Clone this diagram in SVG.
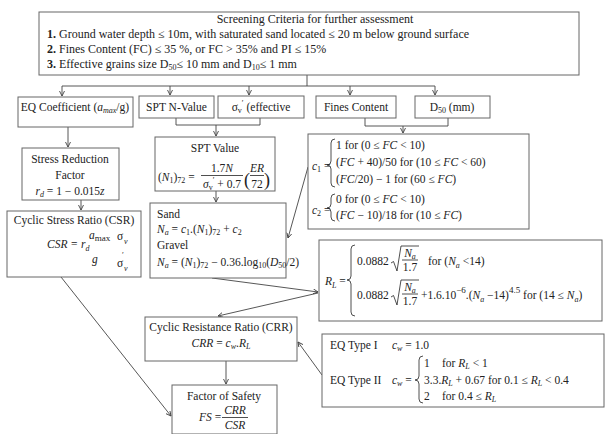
<svg xmlns="http://www.w3.org/2000/svg" width="605" height="434" viewBox="0 0 605 434">
<defs>
<marker id="ah" markerWidth="8" markerHeight="8" refX="5" refY="2.5" orient="auto" markerUnits="userSpaceOnUse">
<path d="M0,0 L5,2.5 L0,5" fill="none" stroke="#444" stroke-width="0.9"/>
</marker>
<style>
text{font-family:"Liberation Serif","Times New Roman",serif;font-size:11.5px;fill:#222}
.box{fill:#fff;stroke:#666;stroke-width:1}
.m{font-style:italic}
.s{font-size:8px}
.p{font-size:18px}
.t{font-size:12px}
.ln{fill:none;stroke:#444;stroke-width:0.9}
.ar{fill:none;stroke:#444;stroke-width:0.9;marker-end:url(#ah)}
.br{fill:none;stroke:#222;stroke-width:0.8}
.bar{stroke:#222;stroke-width:0.8}
</style>
</defs>
<rect width="605" height="434" fill="#fff"/>

<g id="connectors">
<line class="ln" x1="307" y1="75" x2="307" y2="86"/>
<line class="ln" x1="62" y1="86" x2="435" y2="86"/>
<line class="ar" x1="62" y1="86" x2="62" y2="96"/>
<line class="ar" x1="170" y1="86" x2="170" y2="95"/>
<line class="ar" x1="249" y1="86" x2="249" y2="95"/>
<line class="ar" x1="350" y1="86" x2="350" y2="95"/>
<line class="ar" x1="435" y1="86" x2="435" y2="95"/>
<line class="ar" x1="68" y1="127" x2="68" y2="147"/>
<line class="ar" x1="81" y1="200" x2="81" y2="210"/>
<path class="ln" d="M176,118 V125 H260 V118"/>
<line class="ar" x1="216" y1="125" x2="216" y2="136"/>
<line class="ar" x1="216" y1="191" x2="216" y2="202"/>
<path class="ln" d="M365,118 V126 H448 V118"/>
<line class="ar" x1="403" y1="126" x2="403" y2="133"/>
<line class="ar" x1="308" y1="167" x2="288" y2="238"/>
<line class="ar" x1="212" y1="278" x2="318" y2="292"/>
<line class="ar" x1="318" y1="293" x2="218" y2="316"/>
<line class="ar" x1="61" y1="277" x2="171" y2="416"/>
<line class="ar" x1="322" y1="375" x2="298" y2="342"/>
<line class="ar" x1="226" y1="361" x2="226" y2="384"/>
</g>

<g id="screening">
<rect class="box" x="39" y="12" width="540" height="63"/>
<text x="315" y="23" text-anchor="middle" class="t">Screening Criteria for further assessment</text>
<text x="47" y="38" class="t"><tspan font-weight="bold">1.</tspan> Ground water depth  ≤ 10m, with saturated sand located ≤ 20 m below ground surface</text>
<text x="47" y="53" class="t"><tspan font-weight="bold">2.</tspan> Fines Content (FC) ≤ 35 %, or FC &gt; 35% and PI ≤ 15%</text>
<text x="47" y="68" class="t"><tspan font-weight="bold">3.</tspan> Effective grains size D<tspan class="s" dy="2">50</tspan><tspan dy="-2">≤ 10 mm and D</tspan><tspan class="s" dy="2">10</tspan><tspan dy="-2">≤ 1 mm</tspan></text>
</g>

<g id="eq-coefficient">
<rect class="box" x="18" y="97" width="115" height="30"/>
<text x="75" y="111" text-anchor="middle">EQ Coefficient (<tspan class="m">a</tspan><tspan class="s m" dy="2">max</tspan><tspan dy="-2">/g)</tspan></text>
</g>

<g id="spt-n-value">
<rect class="box" x="139" y="96" width="75" height="22"/>
<text x="176.5" y="111" text-anchor="middle">SPT N-Value</text>
</g>

<g id="sigma-effective">
<rect class="box" x="218" y="96" width="86" height="22"/>
<text x="261" y="111" text-anchor="middle">σ<tspan class="s" dy="2">v</tspan><tspan class="s" dy="-7">′</tspan><tspan dy="5"> (effective</tspan></text>
</g>

<g id="fines-content">
<rect class="box" x="316" y="96" width="80" height="22"/>
<text x="356" y="111" text-anchor="middle">Fines Content</text>
</g>

<g id="d50">
<rect class="box" x="415" y="96" width="75" height="22"/>
<text x="452" y="111" text-anchor="middle">D<tspan class="s" dy="2">50</tspan><tspan dy="-2"> (mm)</tspan></text>
</g>

<g id="stress-reduction">
<rect class="box" x="22" y="148" width="97" height="52"/>
<text x="70" y="163" text-anchor="middle">Stress Reduction</text>
<text x="70" y="179" text-anchor="middle">Factor</text>
<text x="70" y="195" text-anchor="middle"><tspan class="m">r</tspan><tspan class="s m" dy="2">d</tspan><tspan dy="-2"> = 1 − 0.015</tspan><tspan class="m">z</tspan></text>
</g>

<g id="csr">
<rect class="box" x="7" y="211" width="134" height="66"/>
<text x="74" y="224" text-anchor="middle">Cyclic Stress Ratio (CSR)</text>
<text x="47" y="248" class="m">CSR = r<tspan class="s" dy="3">d</tspan></text>
<text x="89" y="239" class="m">a<tspan font-size="9" font-style="normal" dy="2">max</tspan></text>
<text x="92" y="263" class="m">g</text>
<text x="117" y="240">σ</text>
<text x="124" y="244" class="s m">v</text>
<text x="122" y="258" class="s">′</text>
<text x="117" y="267">σ</text>
<text x="124" y="271" class="s m">v</text>
</g>

<g id="spt-value">
<rect class="box" x="155" y="137" width="120" height="54"/>
<text x="215" y="152" text-anchor="middle">SPT Value</text>
<text x="158" y="181">(<tspan class="m">N</tspan><tspan class="s" dy="2">1</tspan><tspan dy="-2">)</tspan><tspan class="s" dy="2">72</tspan><tspan dy="-2"> =</tspan></text>
<text x="222" y="172" text-anchor="middle">1.7<tspan class="m">N</tspan></text>
<line class="bar" x1="201" y1="175.5" x2="243" y2="175.5"/>
<text x="222" y="188" text-anchor="middle" font-size="11"><tspan class="m">σ</tspan><tspan class="s" dy="2">v</tspan><tspan class="s" dy="-7">′</tspan><tspan dy="5"> + 0.7</tspan></text>
<text x="244" y="186" class="p">(</text>
<text x="257" y="172" text-anchor="middle" class="m">ER</text>
<line class="bar" x1="250" y1="175.5" x2="264" y2="175.5"/>
<text x="257" y="188" text-anchor="middle">72</text>
<text x="264" y="186" class="p">)</text>
</g>

<g id="sand-gravel">
<rect class="box" x="150" y="203" width="136" height="75"/>
<text x="157" y="218">Sand</text>
<text x="157" y="233"><tspan class="m">N</tspan><tspan class="s m" dy="2">a</tspan><tspan dy="-2"> = </tspan><tspan class="m">c</tspan><tspan class="s" dy="2">1</tspan><tspan dy="-2">.(</tspan><tspan class="m">N</tspan><tspan class="s" dy="2">1</tspan><tspan dy="-2">)</tspan><tspan class="s" dy="2">72</tspan><tspan dy="-2"> + </tspan><tspan class="m">c</tspan><tspan class="s" dy="2">2</tspan></text>
<text x="157" y="249">Gravel</text>
<text x="157" y="266" font-size="11"><tspan class="m">N</tspan><tspan class="s m" dy="2">a</tspan><tspan dy="-2"> = (</tspan><tspan class="m">N</tspan><tspan class="s" dy="2">1</tspan><tspan dy="-2">)</tspan><tspan class="s" dy="2">72</tspan><tspan dy="-2"> − 0.36.log</tspan><tspan class="s" dy="2">10</tspan><tspan dy="-2">(</tspan><tspan class="m">D</tspan><tspan class="s" dy="2">50</tspan><tspan dy="-2">/2)</tspan></text>
</g>

<g id="fines-coefficients">
<rect class="box" x="308" y="134" width="221" height="95"/>
<text x="312" y="170"><tspan class="m">c</tspan><tspan class="s" dy="2">1</tspan><tspan dy="-2"> =</tspan></text>
<path class="br" d="M335,139 q-4,0 -4,4 V161 q0,4 -4,4 q4,0 4,4 V183 q0,4 4,4"/>
<text x="336" y="149">1 for (0 ≤ <tspan class="m">FC</tspan> &lt; 10)</text>
<text x="336" y="166">(<tspan class="m">FC</tspan> + 40)/50 for (10 ≤ <tspan class="m">FC</tspan> &lt; 60)</text>
<text x="336" y="183">(<tspan class="m">FC</tspan>/20) − 1 for (60 ≤ <tspan class="m">FC</tspan>)</text>
<text x="312" y="214"><tspan class="m">c</tspan><tspan class="s" dy="2">2</tspan><tspan dy="-2"> =</tspan></text>
<path class="br" d="M335,194 q-4,0 -4,4 V204 q0,4 -4,4 q4,0 4,4 V217 q0,4 4,4"/>
<text x="336" y="203">0 for (0 ≤ <tspan class="m">FC</tspan> &lt; 10)</text>
<text x="336" y="219">(<tspan class="m">FC</tspan> − 10)/18 for (10 ≤ <tspan class="m">FC</tspan>)</text>
</g>

<g id="liquefaction-resistance">
<rect class="box" x="319" y="240" width="283" height="81"/>
<text x="325" y="285" font-size="12.5"><tspan class="m">R</tspan><tspan class="s m" dy="3">L</tspan><tspan dy="-3"> =</tspan></text>
<path class="br" d="M355,245 q-4,0 -4,4 V276 q0,4 -4,4 q4,0 4,4 V312 q0,4 4,4"/>
<text x="357" y="265" font-size="12">0.0882</text>
<path class="br" d="M391,263 l2.5,-1.5 l3.5,9.5 l4,-25 h18"/>
<text x="410" y="257" text-anchor="middle" font-size="12"><tspan class="m">N</tspan><tspan class="s m" dy="2">a</tspan></text>
<line class="bar" x1="402" y1="260" x2="418" y2="260"/>
<text x="410" y="271" text-anchor="middle" font-size="12">1.7</text>
<text x="428" y="265" font-size="12">for (<tspan class="m">N</tspan><tspan class="s m" dy="3">a</tspan><tspan dy="-3"> &lt;14)</tspan></text>
<text x="357" y="299" font-size="12">0.0882</text>
<path class="br" d="M391,297 l2.5,-1.5 l3.5,9.5 l4,-25 h18"/>
<text x="410" y="291" text-anchor="middle" font-size="12"><tspan class="m">N</tspan><tspan class="s m" dy="2">a</tspan></text>
<line class="bar" x1="402" y1="294" x2="418" y2="294"/>
<text x="410" y="305" text-anchor="middle" font-size="12">1.7</text>
<text x="421" y="299" font-size="12">+1.6.10<tspan font-size="9" dy="-6">−6</tspan><tspan dy="6">.(</tspan><tspan class="m">N</tspan><tspan class="s m" dy="3">a</tspan><tspan dy="-3"> −14)</tspan><tspan font-size="9" dy="-6">4.5</tspan><tspan dy="6"> for (14 ≤ </tspan><tspan class="m">N</tspan><tspan class="s m" dy="3">a</tspan><tspan dy="-3">)</tspan></text>
</g>

<g id="eq-type">
<rect class="box" x="322" y="334" width="282" height="73"/>
<text x="330" y="349">EQ Type I</text>
<text x="392" y="349"><tspan class="m">c</tspan><tspan class="s m" dy="2">w</tspan><tspan dy="-2"> = 1.0</tspan></text>
<text x="330" y="384">EQ Type II</text>
<text x="392" y="384"><tspan class="m">c</tspan><tspan class="s m" dy="2">w</tspan><tspan dy="-2"> =</tspan></text>
<path class="br" d="M423,356 q-4,0 -4,4 V376 q0,4 -4,4 q4,0 4,4 V399 q0,4 4,4"/>
<text x="424" y="367">1</text>
<text x="442" y="367">for <tspan class="m">R</tspan><tspan class="s m" dy="2">L</tspan><tspan dy="-2"> &lt; 1</tspan></text>
<text x="424" y="384">3.3.<tspan class="m">R</tspan><tspan class="s m" dy="2">L</tspan><tspan dy="-2"> + 0.67 for 0.1 ≤ </tspan><tspan class="m">R</tspan><tspan class="s m" dy="2">L</tspan><tspan dy="-2"> &lt; 0.4</tspan></text>
<text x="424" y="400">2</text>
<text x="442" y="400">for  0.4 ≤ <tspan class="m">R</tspan><tspan class="s m" dy="2">L</tspan></text>
</g>

<g id="crr">
<rect class="box" x="145" y="317" width="152" height="44"/>
<text x="221" y="331" text-anchor="middle">Cyclic Resistance Ratio (CRR)</text>
<text x="221" y="347" text-anchor="middle"><tspan class="m">CRR</tspan> = <tspan class="m">c</tspan><tspan class="s m" dy="2">w</tspan><tspan dy="-2">.</tspan><tspan class="m">R</tspan><tspan class="s m" dy="2">L</tspan></text>
</g>

<g id="factor-of-safety">
<rect class="box" x="172" y="385" width="105" height="49"/>
<text x="224" y="400" text-anchor="middle">Factor of Safety</text>
<text x="199" y="421"><tspan class="m">FS</tspan> =</text>
<text x="235" y="414" text-anchor="middle" class="m">CRR</text>
<line class="bar" x1="222" y1="417.5" x2="248" y2="417.5"/>
<text x="235" y="429" text-anchor="middle" class="m">CSR</text>
</g>
</svg>
